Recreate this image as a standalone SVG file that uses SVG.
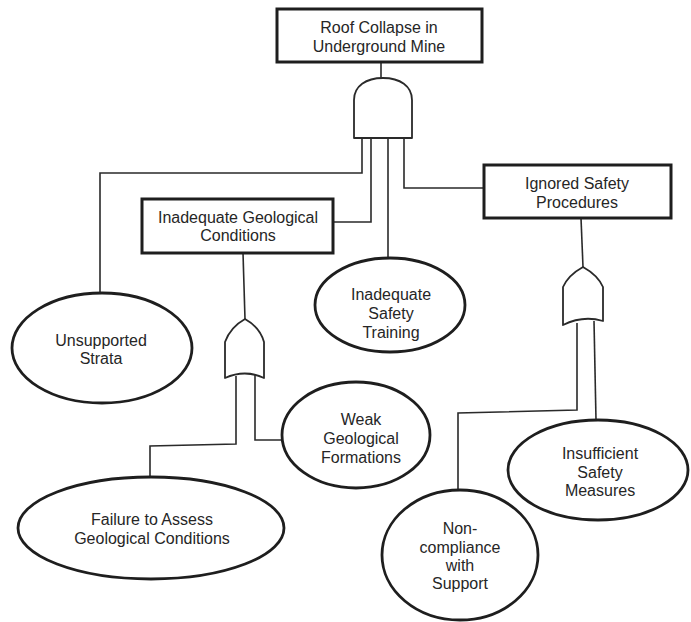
<svg xmlns="http://www.w3.org/2000/svg" width="691" height="622" viewBox="0 0 691 622">
<style>
.box{fill:#fff;stroke:#1e1e1e;stroke-width:3}
.ev{fill:#fff;stroke:#1e1e1e;stroke-width:2.8}
.gate{fill:#fff;stroke:#2a2a2a;stroke-width:1.8;stroke-linejoin:round}
.wire{fill:none;stroke:#2a2a2a;stroke-width:1.6}
text{font-family:"Liberation Sans",Arial,sans-serif;font-size:16px;fill:#262626;text-anchor:middle}
</style>
<rect width="691" height="622" fill="#fff"/>
<g id="connectors">
<path class="wire" d="M381,62 V78"/>
<path class="wire" d="M362,138 V173 H100 V293"/>
<path class="wire" d="M371,138 V222 H333"/>
<path class="wire" d="M388,138 V258"/>
<path class="wire" d="M404,138 V188 H484"/>
<path class="wire" d="M243,253 L245,319"/>
<path class="wire" d="M236,376 V444 L150,446 V477"/>
<path class="wire" d="M255,374 V440 H282"/>
<path class="wire" d="M581,218 L583,267"/>
<path class="wire" d="M577,323 V410 L458,413 V490"/>
<path class="wire" d="M594,321 L596,420"/>
</g>
<g id="gate-and-top">
<path class="gate" d="M354,138 V100 C354,86 366,78 383,78 C400,78 412,86 412,100 V138 Z"/>
</g>
<g id="gate-or-left">
<path class="gate" d="M225,378 V342 C229,331 236,324 245,319 C254,324 261,331 264,342 V378 Q245,369 225,378 Z"/>
</g>
<g id="gate-or-right">
<path class="gate" d="M563,325 V287 C567,278 574,272 583,267 C592,272 599,278 603,287 V321 Q583,315 563,325 Z"/>
</g>
<g id="top-event">
<rect class="box" x="277" y="9" width="205" height="53"/>
<text x="379" y="33">Roof Collapse in</text>
<text x="379" y="52">Underground Mine</text>
</g>
<g id="inadequate-geological-conditions">
<rect class="box" x="142" y="199" width="191" height="54"/>
<text x="238" y="223">Inadequate Geological</text>
<text x="238" y="241">Conditions</text>
</g>
<g id="ignored-safety-procedures">
<rect class="box" x="484" y="165" width="187" height="53"/>
<text x="577" y="189">Ignored Safety</text>
<text x="577" y="208">Procedures</text>
</g>
<g id="unsupported-strata">
<ellipse class="ev" cx="102" cy="348" rx="90" ry="55"/>
<text x="101" y="346">Unsupported</text>
<text x="101" y="364">Strata</text>
</g>
<g id="inadequate-safety-training">
<ellipse class="ev" cx="390" cy="305" rx="75" ry="47"/>
<text x="391" y="300">Inadequate</text>
<text x="391" y="319">Safety</text>
<text x="391" y="338">Training</text>
</g>
<g id="weak-geological-formations">
<ellipse class="ev" cx="356" cy="435" rx="74" ry="53"/>
<text x="361" y="425">Weak</text>
<text x="361" y="444">Geological</text>
<text x="361" y="463">Formations</text>
</g>
<g id="failure-to-assess">
<ellipse class="ev" cx="151" cy="528" rx="133" ry="51"/>
<text x="152" y="525">Failure to Assess</text>
<text x="152" y="544">Geological Conditions</text>
</g>
<g id="insufficient-safety-measures">
<ellipse class="ev" cx="598" cy="470" rx="90" ry="50"/>
<text x="600" y="459">Insufficient</text>
<text x="600" y="478">Safety</text>
<text x="600" y="496">Measures</text>
</g>
<g id="non-compliance">
<ellipse class="ev" cx="460" cy="555" rx="78" ry="65"/>
<text x="460" y="534">Non-</text>
<text x="460" y="553">compliance</text>
<text x="460" y="571">with</text>
<text x="460" y="589">Support</text>
</g>
</svg>
